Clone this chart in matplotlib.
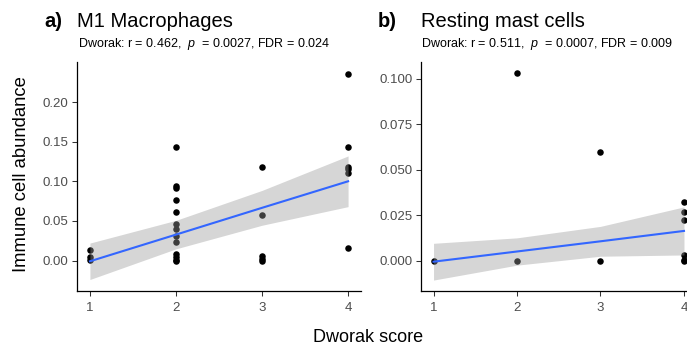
import numpy as np
import matplotlib
matplotlib.use("Agg")
import matplotlib.pyplot as plt

plt.rcParams['font.family'] = ['Liberation Sans', 'DejaVu Sans']
plt.rcParams['mathtext.fontset'] = 'custom'
plt.rcParams['mathtext.it'] = 'Liberation Sans:italic'
plt.rcParams['mathtext.rm'] = 'Liberation Sans'

# ---- M1 Macrophages ----
m1_x = [1, 1, 1,
        2, 2, 2, 2, 2, 2, 2, 2, 2, 2, 2, 2, 2,
        3, 3, 3, 3, 3,
        4, 4, 4, 4, 4, 4]
m1_y = [0.013, 0.004, 0.001,
        0.143, 0.094, 0.091, 0.077, 0.061, 0.046, 0.040, 0.031, 0.023, 0.008, 0.004, 0.001, 0.000,
        0.118, 0.058, 0.006, 0.002, 0.000,
        0.236, 0.143, 0.118, 0.115, 0.111, 0.016]
# linear fit and 95% band at each score
m1_fit_x = [1, 2, 3, 4]
m1_fit = [-0.001, 0.0327, 0.0665, 0.100]
m1_lo = [-0.024, 0.0147, 0.0445, 0.068]
m1_hi = [0.022, 0.0507, 0.0885, 0.132]

# ---- Resting mast cells ----
mast_x = [1, 2, 2, 3, 3, 4, 4, 4, 4, 4, 4]
mast_y = [0.000, 0.1035, 0.000, 0.0601, 0.000, 0.0326, 0.0269, 0.0224, 0.0033, 0.0005, 0.000]
mast_fit_x = [1, 2, 3, 4]
mast_fit = [-0.0004, 0.0052, 0.0108, 0.0165]
mast_lo = [-0.0105, -0.0023, 0.0026, 0.0033]
mast_hi = [0.0097, 0.0127, 0.0190, 0.0297]

x_ticks = [1, 2, 3, 4]
m1_yticks = [0.00, 0.05, 0.10, 0.15, 0.20]
m1_ylabels = ["0.00", "0.05", "0.10", "0.15", "0.20"]
mast_yticks = [0.000, 0.025, 0.050, 0.075, 0.100]
mast_ylabels = ["0.000", "0.025", "0.050", "0.075", "0.100"]

W, H = 687, 349
fig = plt.figure(figsize=(W / 100, H / 100), dpi=100)


def px_axes(x0, y0, x1, y1):
    return fig.add_axes([x0 / W, 1 - y1 / H, (x1 - x0) / W, (y1 - y0) / H])


def panel(ax, xs, ys, fx, fit, lo, hi, yt, yl, ylim):
    ax.scatter(xs, ys, s=22, color="black", linewidths=0, zorder=2)
    ax.fill_between(fx, lo, hi, color="#999999", alpha=0.4, linewidth=0, zorder=3)
    ax.plot(fx, fit, color="#3366FF", lw=1.5, zorder=4)
    ax.set_xlim(0.85, 4.15)
    ax.set_ylim(*ylim)
    ax.set_xticks(x_ticks)
    ax.set_xticklabels([str(v) for v in x_ticks])
    ax.set_yticks(yt)
    ax.set_yticklabels(yl)
    for s in ("top", "right"):
        ax.spines[s].set_visible(False)
    for s in ("left", "bottom"):
        ax.spines[s].set_linewidth(0.9)
        ax.spines[s].set_color("black")
    ax.tick_params(direction="out", length=3.6, width=0.75, color="#333333",
                   labelcolor="#4D4D4D", labelsize=9.5, pad=2.5)
    ax.tick_params(axis="x", pad=4)


ax1 = px_axes(77, 62, 361, 291)
panel(ax1, m1_x, m1_y, m1_fit_x, m1_fit, m1_lo, m1_hi,
      m1_yticks, m1_ylabels, (-0.0385, 0.2506))

ax2 = px_axes(421, 62, 696.5, 291)
panel(ax2, mast_x, mast_y, mast_fit_x, mast_fit, mast_lo, mast_hi,
      mast_yticks, mast_ylabels, (-0.0165, 0.1093))

# panel titles
fig.text(44 / W, 1 - 27 / H, "a)", fontsize=14.5, fontweight="bold", va="baseline")
fig.text(77 / W, 1 - 27 / H, "M1 Macrophages", fontsize=14.5, va="baseline")
fig.text(77.5 / W, 1 - 47.5 / H,
         r"Dworak: r = 0.462,  $\it{p}$  = 0.0027, FDR = 0.024",
         fontsize=9, va="baseline")

fig.text(378 / W, 1 - 27 / H, "b)", fontsize=14.5, fontweight="bold", va="baseline")
fig.text(421 / W, 1 - 27 / H, "Resting mast cells", fontsize=14.5, va="baseline")
fig.text(421 / W, 1 - 47.5 / H,
         r"Dworak: r = 0.511,  $\it{p}$  = 0.0007, FDR = 0.009",
         fontsize=9, va="baseline")

# shared axis titles
fig.text(22 / W, 1 - 174 / H, "Immune cell abundance", fontsize=13.3,
         rotation=90, ha="center", va="center")
fig.text(368 / W, 1 - 338 / H, "Dworak score", fontsize=13,
         ha="center", va="center")

fig.savefig("out.png", dpi=100)
